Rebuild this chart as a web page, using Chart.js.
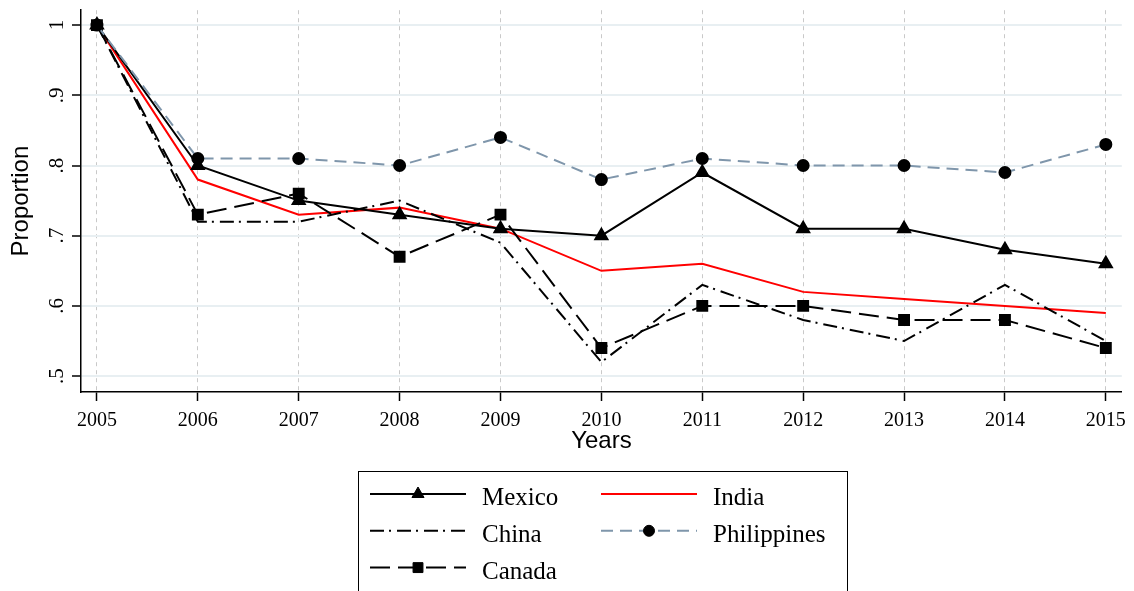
<!DOCTYPE html>
<html>
<head>
<meta charset="utf-8">
<title>Proportion by year</title>
<script src="https://cdn.jsdelivr.net/npm/chart.js@4/dist/chart.umd.min.js"></script>
<style>
	body { margin: 0; background: #fff; }
	#wrap { width: 1134px; height: 591px; }
</style>
</head>
<body>
<div id="wrap"><canvas id="chart" width="1134" height="591"></canvas></div>
<script>
// data
let years = [2005, 2006, 2007, 2008, 2009, 2010, 2011, 2012, 2013, 2014, 2015];
let yTicks = [0.5, 0.6, 0.7, 0.8, 0.9, 1];
let mexico = [1, 0.80, 0.75, 0.73, 0.71, 0.70, 0.79, 0.71, 0.71, 0.68, 0.66];
let india = [1, 0.78, 0.73, 0.74, 0.71, 0.65, 0.66, 0.62, 0.61, 0.60, 0.59];
let china = [1, 0.72, 0.72, 0.75, 0.69, 0.52, 0.63, 0.58, 0.55, 0.63, 0.55];
let philippines = [1, 0.81, 0.81, 0.80, 0.84, 0.78, 0.81, 0.80, 0.80, 0.79, 0.83];
let canada = [1, 0.73, 0.76, 0.67, 0.73, 0.54, 0.60, 0.60, 0.58, 0.58, 0.54];

function pts(arr) {
	return arr.map(function(v, i) { return {x: years[i], y: v}; });
}

let serif = "'Liberation Serif', 'Times New Roman', serif";
let sans = "'Liberation Sans', Arial, sans-serif";

let datasets = [
	{label: 'Philippines', data: pts(philippines), borderColor: '#7f96ab', borderWidth: 2, borderDash: [12, 7],
	 pointStyle: 'circle', pointRadius: 5.5, pointBackgroundColor: '#000', pointBorderColor: '#000'},
	{label: 'Mexico', data: pts(mexico), borderColor: '#000', borderWidth: 2,
	 pointStyle: 'triangle', pointRadius: 7, pointBackgroundColor: '#000', pointBorderColor: '#000'},
	{label: 'China', data: pts(china), borderColor: '#000', borderWidth: 2, borderDash: [14, 5, 2, 6],
	 pointRadius: 0},
	{label: 'Canada', data: pts(canada), borderColor: '#000', borderWidth: 2, borderDash: [20, 8],
	 pointStyle: 'rect', pointRadius: 7, pointBackgroundColor: '#000', pointBorderColor: '#000'},
	{label: 'India', data: pts(india), borderColor: '#ff0000', borderWidth: 2, pointRadius: 0}
];

// legend order as in the figure: [dataset label, column, row]
let legendSlots = [['Mexico', 0, 0], ['India', 1, 0], ['China', 0, 1], ['Philippines', 1, 1], ['Canada', 0, 2]];

let extras = {
	id: 'extras',
	afterDraw: function(chart) {
		let ctx = chart.ctx;
		let ys = chart.scales.y;

		// y tick labels, rotated like the original
		ctx.save();
		ctx.fillStyle = '#000';
		ctx.font = '21px ' + serif;
		ctx.textAlign = 'center';
		ctx.textBaseline = 'alphabetic';
		yTicks.forEach(function(v) {
			let txt = v === 1 ? '1' : '.' + Math.round(v * 10);
			ctx.save();
			ctx.translate(63, ys.getPixelForValue(v));
			ctx.rotate(-Math.PI / 2);
			ctx.fillText(txt, 0, 0);
			ctx.restore();
		});
		ctx.restore();

		// legend box
		ctx.save();
		ctx.strokeStyle = '#000';
		ctx.lineWidth = 1;
		ctx.strokeRect(358.5, 471.5, 489, 140);
		ctx.font = '25px ' + serif;
		ctx.textBaseline = 'alphabetic';
		ctx.textAlign = 'left';
		legendSlots.forEach(function(s) {
			let ds = chart.data.datasets.find(function(d) { return d.label === s[0]; });
			let x0 = s[1] === 0 ? 370 : 601;
			let y = 494 + s[2] * 36.8;
			ctx.save();
			ctx.strokeStyle = ds.borderColor;
			ctx.lineWidth = ds.borderWidth;
			ctx.setLineDash(ds.borderDash || []);
			ctx.beginPath();
			ctx.moveTo(x0, y);
			ctx.lineTo(x0 + 96, y);
			ctx.stroke();
			ctx.setLineDash([]);
			if (ds.pointRadius > 0) {
				ctx.fillStyle = ds.pointBackgroundColor;
				ctx.strokeStyle = ds.pointBorderColor;
				ctx.lineWidth = 1;
				Chart.helpers.drawPoint(ctx, {pointStyle: ds.pointStyle, radius: ds.pointRadius, rotation: 0, borderWidth: 1}, x0 + 48, y);
			}
			ctx.restore();
			ctx.fillStyle = '#000';
			ctx.fillText(s[0], x0 + 112, y + 11);
		});
		ctx.restore();
	}
};

let chart = new Chart(document.getElementById('chart'), {
	type: 'line',
	data: {datasets: datasets},
	options: {
		responsive: false,
		animation: false,
		devicePixelRatio: 1,
		layout: {padding: {top: 7, right: 11, bottom: 135, left: 0}},
		plugins: {legend: {display: false}, tooltip: {enabled: false}},
		elements: {line: {tension: 0}},
		scales: {
			x: {
				type: 'linear',
				min: 2004.842,
				max: 2015.158,
				afterBuildTicks: function(s) { s.ticks = years.map(function(v) { return {value: v}; }); },
				afterFit: function(s) { s.height = 64; },
				grid: {color: '#c9c9c9', lineWidth: 1, tickColor: '#000', tickWidth: 1.5, tickLength: 9, tickBorderDash: []},
				border: {color: '#000', width: 1.5, dash: [4, 4]},
				ticks: {
					color: '#000',
					font: {family: serif, size: 20},
					padding: 8,
					maxRotation: 0,
					autoSkip: false,
					callback: function(v) { return String(v); }
				},
				title: {display: true, text: 'Years', color: '#000', font: {family: sans, size: 24}, padding: 0}
			},
			y: {
				min: 0.4774,
				max: 1.0212,
				afterBuildTicks: function(s) { s.ticks = yTicks.map(function(v) { return {value: v}; }); },
				afterFit: function(s) { s.width = 81; },
				grid: {color: '#e8eff2', lineWidth: 2, tickColor: '#000', tickWidth: 1.5, tickLength: 9},
				border: {color: '#000', width: 1.5},
				ticks: {callback: function() { return ''; }},
				title: {display: true, text: 'Proportion', color: '#000', font: {family: sans, size: 24}, padding: 7}
			}
		}
	},
	plugins: [extras]
});
</script>
</body>
</html>
